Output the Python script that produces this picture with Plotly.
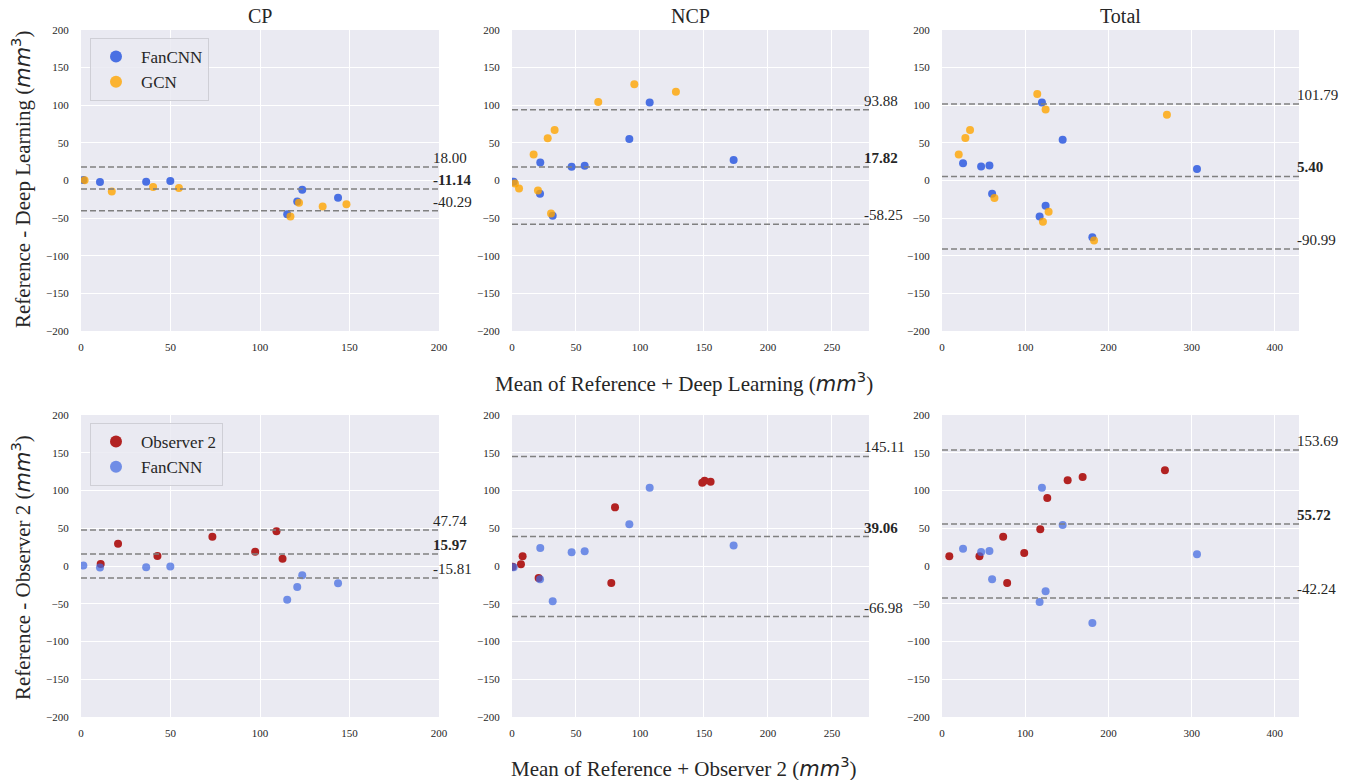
import plotly.graph_objects as go
from plotly.subplots import make_subplots

# ---------------- data ----------------
COLUMN_TITLES = ["CP", "NCP", "Total"]

CP_FAN_X = [1.3, 10.6, 36.4, 49.9, 115.2, 120.8, 123.6, 143.6]
CP_FAN_Y = [0.8, -2.0, -1.8, -0.6, -44.8, -27.8, -12.2, -23.0]
CP_GCN_X = [2.0, 17.2, 40.3, 54.7, 117.0, 121.8, 135.0, 148.3]
CP_GCN_Y = [0.4, -14.6, -8.8, -10.0, -48.0, -29.6, -34.4, -31.4]
CP_OBS_X = [11.0, 20.7, 42.7, 73.4, 97.3, 109.2, 112.6]
CP_OBS_Y = [2.6, 29.6, 13.2, 38.9, 19.0, 45.9, 9.7]

NCP_FAN_X = [1.3, 21.9, 22.1, 31.8, 46.6, 56.8, 91.7, 107.6, 173.2]
NCP_FAN_Y = [-1.5, -17.5, 23.8, -46.8, 18.2, 19.5, 55.2, 103.8, 27.2]
NCP_GCN_X = [2.3, 5.5, 16.9, 20.3, 27.9, 30.5, 33.3, 67.4, 95.6, 128.1]
NCP_GCN_Y = [-4.0, -10.6, 34.4, -13.2, 56.0, -43.7, 67.1, 104.2, 128.0, 117.9]
NCP_OBS_X = [0.5, 7.0, 8.3, 20.8, 77.6, 80.5, 148.7, 150.5, 155.2]
NCP_OBS_Y = [-0.9, 2.2, 12.8, -15.9, -22.5, 77.7, 110.4, 113.0, 111.7]

TOT_FAN_X = [25.3, 47.0, 57.0, 60.2, 117.3, 120.1, 124.5, 145.0, 180.7, 306.4]
TOT_FAN_Y = [23.0, 18.5, 19.9, -17.7, -47.7, 103.7, -33.6, 54.3, -75.5, 15.4]
TOT_GCN_X = [20.1, 28.1, 33.7, 63.0, 114.5, 121.3, 124.5, 128.1, 182.7, 270.3]
TOT_GCN_Y = [34.4, 56.5, 67.1, -23.4, 114.8, -54.7, 94.4, -41.5, -79.9, 87.4]
TOT_OBS_X = [8.8, 45.0, 73.5, 78.3, 98.8, 118.1, 126.5, 151.0, 169.0, 267.9]
TOT_OBS_Y = [12.8, 12.8, 38.9, -22.5, 17.2, 48.6, 90.0, 113.5, 117.9, 126.7]

# limits of agreement: (upper, mean, lower)
TOP_LINES = [(18.00, -11.14, -40.29), (93.88, 17.82, -58.25), (101.79, 5.40, -90.99)]
BOT_LINES = [(47.74, 15.97, -15.81), (145.11, 39.06, -66.98), (153.69, 55.72, -42.24)]

X_RANGES = [(0, 200), (0, 279), (0, 429)]
X_DTICKS = [50, 50, 100]
Y_TICKS = [-200, -150, -100, -50, 0, 50, 100, 150, 200]

TOP_DATA = [(CP_FAN_X, CP_FAN_Y, CP_GCN_X, CP_GCN_Y),
            (NCP_FAN_X, NCP_FAN_Y, NCP_GCN_X, NCP_GCN_Y),
            (TOT_FAN_X, TOT_FAN_Y, TOT_GCN_X, TOT_GCN_Y)]
BOT_DATA = [(CP_OBS_X, CP_OBS_Y, CP_FAN_X, CP_FAN_Y),
            (NCP_OBS_X, NCP_OBS_Y, NCP_FAN_X, NCP_FAN_Y),
            (TOT_OBS_X, TOT_OBS_Y, TOT_FAN_X, TOT_FAN_Y)]

# ---------------- styling ----------------
W, H = 1363, 780
SERIF = "Liberation Serif, Times New Roman, serif"
BG = "#EAEAF2"
TICK_COLOR = "#262626"

X_DOMAINS = [(81 / W, 439 / W), (512 / W, 869 / W), (942 / W, 1299 / W)]
Y_DOMAINS = [(1 - 331 / H, 1 - 30 / H), (1 - 717 / H, 1 - 415 / H)]
TEXT_X = [0.981, 0.983, 0.992]

fig = make_subplots(rows=2, cols=3)

for r in range(2):
    for c in range(3):
        data = TOP_DATA[c] if r == 0 else BOT_DATA[c]
        if r == 0:
            names = ["FanCNN", "GCN"]
            colors = ["royalblue", "orange"]
            opac = [0.95, 0.8]
            leg = "legend"
        else:
            names = ["Observer 2", "FanCNN"]
            colors = ["firebrick", "royalblue"]
            opac = [1.0, 0.72]
            leg = "legend2"
        for k in range(2):
            fig.add_trace(go.Scatter(
                x=data[2 * k], y=data[2 * k + 1], mode="markers",
                name=names[k], legend=leg,
                marker=dict(color=colors[k], size=8, opacity=opac[k], line=dict(width=0)),
                showlegend=(c == 0),
            ), row=r + 1, col=c + 1)

        n = r * 3 + c + 1
        sfx = "" if n == 1 else str(n)
        lines = TOP_LINES[c] if r == 0 else BOT_LINES[c]
        for j, v in enumerate(lines):
            fig.add_shape(type="line", xref=f"x{sfx} domain", yref=f"y{sfx}",
                          x0=0, x1=1, y0=v, y1=v,
                          line=dict(color="#808080", width=1.5, dash="6px,3px"))
            txt = f"{v:.2f}"
            if j == 1:
                txt = f"<b>{txt}</b>"
            fig.add_annotation(xref=f"x{sfx} domain", yref=f"y{sfx}", x=TEXT_X[c], y=v,
                               text=txt, showarrow=False, xanchor="left", yanchor="bottom",
                               font=dict(family=SERIF, size=15, color="#262626"), borderpad=0)

        fig.update_xaxes(domain=X_DOMAINS[c], range=list(X_RANGES[c]), dtick=X_DTICKS[c], tick0=0,
                         row=r + 1, col=c + 1)
        fig.update_yaxes(domain=Y_DOMAINS[r], range=[-200, 200], tickvals=Y_TICKS,
                         row=r + 1, col=c + 1)

fig.update_xaxes(showgrid=True, gridcolor="white", gridwidth=1, zeroline=False, showline=False,
                 ticks="outside", ticklen=6, tickcolor="rgba(0,0,0,0)", automargin=False,
                 tickfont=dict(family=SERIF, size=11, color=TICK_COLOR))
fig.update_yaxes(showgrid=True, gridcolor="white", gridwidth=1, zeroline=False, showline=False,
                 ticks="outside", ticklen=9, tickcolor="rgba(0,0,0,0)", automargin=False,
                 tickfont=dict(family=SERIF, size=11, color=TICK_COLOR))

MM3 = "(<span style=\"font-family:'DejaVu Sans'\"><i>mm</i><sup>3</sup></span>)"
TITLE_FONT = dict(family=SERIF, size=21, color="#262626")

# column titles
for c, t in enumerate(COLUMN_TITLES):
    cx = (X_DOMAINS[c][0] + X_DOMAINS[c][1]) / 2
    fig.add_annotation(xref="paper", yref="paper", x=cx, y=1 - 16 / H, text=t, showarrow=False,
                       xanchor="center", yanchor="middle",
                       font=dict(family=SERIF, size=20, color="#262626"))

# axis titles
fig.add_annotation(xref="paper", yref="paper", x=684 / W, y=1 - 382 / H,
                   text="Mean of Reference + Deep Learning " + MM3, showarrow=False,
                   xanchor="center", yanchor="middle", font=TITLE_FONT)
fig.add_annotation(xref="paper", yref="paper", x=684 / W, y=1 - 767 / H,
                   text="Mean of Reference + Observer 2 " + MM3, showarrow=False,
                   xanchor="center", yanchor="middle", font=TITLE_FONT)
fig.add_annotation(xref="paper", yref="paper", x=21 / W, y=1 - 180 / H, textangle=-90,
                   text="Reference - Deep Learning " + MM3, showarrow=False,
                   xanchor="center", yanchor="middle", font=TITLE_FONT)
fig.add_annotation(xref="paper", yref="paper", x=21 / W, y=1 - 568 / H, textangle=-90,
                   text="Reference - Observer 2 " + MM3, showarrow=False,
                   xanchor="center", yanchor="middle", font=TITLE_FONT)

legend_style = dict(bgcolor="rgba(234,234,242,0.85)", bordercolor="#cfcfd6", borderwidth=1,
                    font=dict(family=SERIF, size=17, color="#262626"),
                    xanchor="left", yanchor="top", itemsizing="constant", itemwidth=40)

fig.update_layout(
    width=W, height=H,
    margin=dict(l=0, r=0, t=0, b=0, autoexpand=False),
    paper_bgcolor="white", plot_bgcolor=BG,
    font=dict(family=SERIF, color="#262626"),
    legend=dict(x=90 / W, y=1 - 38 / H, **legend_style),
    legend2=dict(x=90 / W, y=1 - 423 / H, **legend_style),
)

fig.write_html("out.html", config={"displayModeBar": False},
               post_script="document.body.style.margin='0';document.body.style.overflow='hidden';")
